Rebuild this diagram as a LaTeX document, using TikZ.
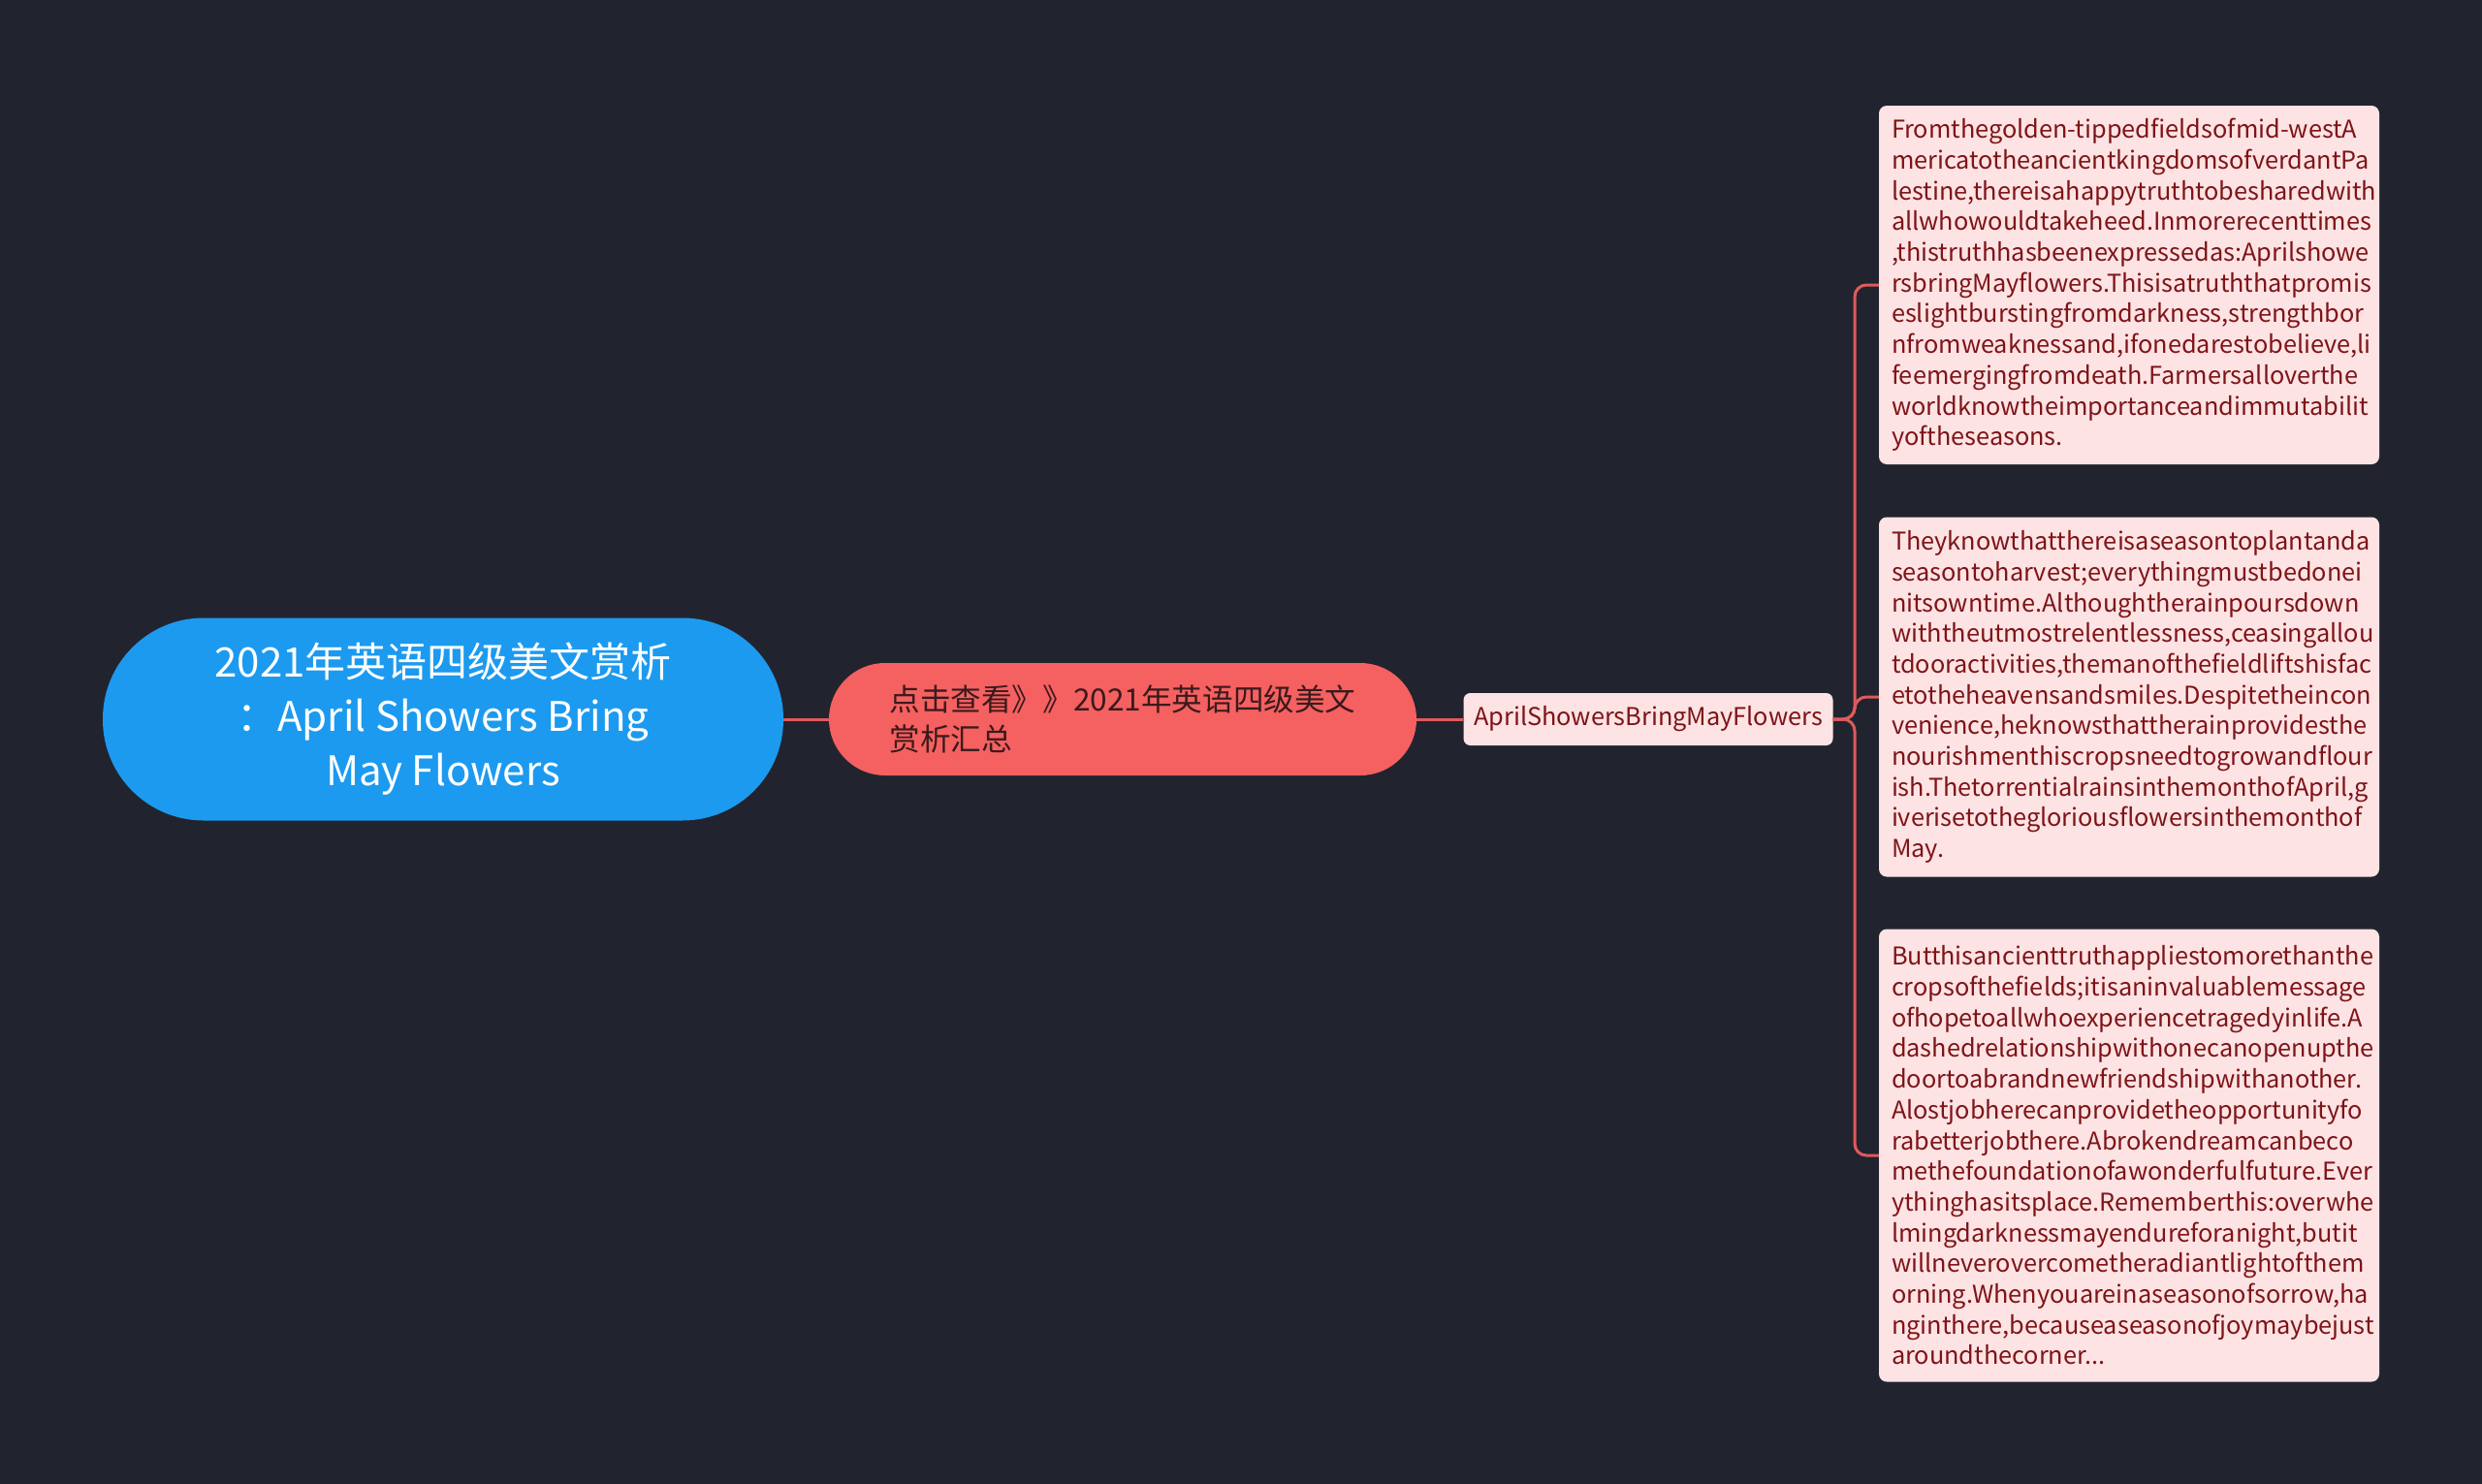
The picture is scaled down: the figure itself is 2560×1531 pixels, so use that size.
\documentclass[tikz,border=0pt]{standalone}
\usepackage{fontspec}
\setmainfont{Noto Sans CJK SC}
\begin{document}
\begin{tikzpicture}[x=1pt,y=-1pt,
  conn/.style={draw=linkred,line width=3pt,rounded corners=12pt},
  rootbox/.style={fill=rootblue,text=white,rounded corners=104pt,minimum width=702pt,minimum height=209pt,inner sep=0pt,align=center,font=\fontsize{42}{56}\selectfont},
  midbox/.style={fill=midred,text=midtext,rounded corners=58pt,minimum width=606pt,minimum height=116pt,inner sep=0pt,align=left,font=\fontsize{31.6}{41}\selectfont},
  subbox/.style={fill=leaffill,text=leaftext,rounded corners=7pt,minimum width=381pt,minimum height=54pt,inner sep=0pt,font=\fontsize{25.3}{32}\selectfont},
  leafbox/.style={fill=leaffill,text=leaftext,rounded corners=8pt,text width=490pt,inner xsep=13pt,inner ysep=0pt,align=left,font=\fontsize{25.3}{31.7}\selectfont}
]
\definecolor{bg}{HTML}{21242E}
\definecolor{rootblue}{HTML}{1C9AEF}
\definecolor{midred}{HTML}{F56060}
\definecolor{midtext}{HTML}{3A1A1C}
\definecolor{leaffill}{HTML}{FDE3E3}
\definecolor{leaftext}{HTML}{7E1418}
\definecolor{linkred}{HTML}{E05A5C}
\fill[bg] (0,0) rectangle (2560,1531);
\useasboundingbox (0,0) rectangle (2560,1531);

\node[rootbox] (root) at (457,742) {2021年英语四级美文赏析\\：April Showers Bring\\May Flowers};
\node[midbox] (mid) at (1158,742) {点击查看》》2021年英语四级美文\\赏析汇总};
\node[subbox] (sub) at (1700,742) {AprilShowersBringMayFlowers};

\node[leafbox,minimum height=370pt] (l1) at (2196,294) {Fromthegolden-tippedfieldsofmid-westA\\mericatotheancientkingdomsofverdantPa\\lestine,thereisahappytruthtobesharedwith\\allwhowouldtakeheed.Inmorerecenttimes\\,thistruthhasbeenexpressedas:Aprilshowe\\rsbringMayflowers.Thisisatruththatpromis\\eslightburstingfromdarkness,strengthbor\\nfromweaknessand,ifonedarestobelieve,li\\feemergingfromdeath.Farmersallover\-the\\worldknowtheimportanceandimmutabilit\\yoftheseasons.};
\node[leafbox,minimum height=371pt] (l2) at (2196,719) {Theyknowthatthereisaseasontoplantanda\\seasontoharvest;everythingmustbedonei\\nitsowntime.Althoughtherainpoursdown\\withtheutmostrelentlessness,ceasingallou\\tdooractivities,themanofthefieldliftshisfac\\etotheheavensandsmiles.Despitetheincon\\venience,heknowsthattherainprovidesthe\\nourishmenthiscropsneedtogrowandflour\\ish.ThetorrentialrainsinthemonthofApril,g\\iverisetothegloriousflowersinthemonthof\\May.};
\node[leafbox,minimum height=467pt] (l3) at (2196,1192) {Butthisancienttruthappliestomorethanthe\\cropsofthefields;itisaninvaluablemessage\\ofhopetoallwhoexperiencetragedyinlife.A\\dashedrelationshipwithonecanopenupthe\\doortoabrandnewfriendshipwithanother.\\Alostjobherecanprovidetheopportunityfo\\rabetterjobthere.Abrokendreamcanbeco\\methefoundationofawonderfulfuture.Ever\\ythinghasitsplace.Rememberthis:overwhe\\lmingdarknessmayendureforanight,butit\\willneverovercometheradiantlightofthem\\orning.Whenyouareinaseasonofsorrow,ha\\nginthere,becauseaseasonofjoymaybejust\\aroundthecorner...};

\coordinate (trunk) at (1913,742);
\draw[conn] (root.east) -- (mid.west);
\draw[conn] (mid.east) -- (sub.west);
\draw[conn] (sub.east) -- (trunk) |- (l1.west);
\draw[conn] (sub.east) -- (trunk) |- (l2.west);
\draw[conn] (sub.east) -- (trunk) |- (l3.west);
\end{tikzpicture}
\end{document}
